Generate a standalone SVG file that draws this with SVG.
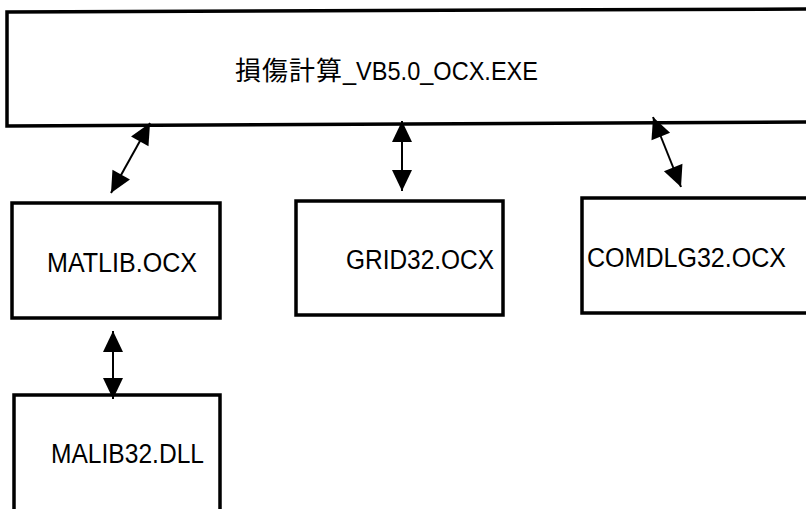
<svg xmlns="http://www.w3.org/2000/svg" width="806" height="509" viewBox="0 0 806 509">
<style>
.box{fill:#fff;stroke:#000;stroke-width:3.5}
.lbl{font-family:"Liberation Sans","Noto Sans CJK JP",sans-serif;font-size:27px;fill:#000}
.con{stroke:#000;stroke-width:2;fill:none;marker-start:url(#ah);marker-end:url(#ah)}
</style>
<defs>
<marker id="ah" markerUnits="userSpaceOnUse" markerWidth="24" markerHeight="22" refX="21" refY="10" orient="auto-start-reverse" overflow="visible">
<path d="M0,0 L21,10 L0,20 z" fill="#000"/>
</marker>
</defs>
<rect width="806" height="509" fill="#fff"/>
<g id="main">
<path class="box" d="M808,9 L7,12 L7,126 L808,122"/>
<text x="235" y="80" class="lbl"><tspan font-family="'Noto Sans CJK JP',sans-serif" font-size="26" letter-spacing="1">損傷計算</tspan><tspan font-size="26" textLength="195" lengthAdjust="spacingAndGlyphs">_VB5.0_OCX.EXE</tspan></text>
</g>
<g id="matlib">
<rect class="box" x="12" y="203" width="208" height="115"/>
<text x="47" y="272" class="lbl" textLength="150" lengthAdjust="spacingAndGlyphs">MATLIB.OCX</text>
</g>
<g id="grid32">
<rect class="box" x="296" y="201" width="207" height="114"/>
<text x="346" y="269" class="lbl" textLength="148" lengthAdjust="spacingAndGlyphs">GRID32.OCX</text>
</g>
<g id="comdlg32">
<path class="box" d="M808,198 L582,198 L582,313 L808,313"/>
<text x="587" y="267" class="lbl" textLength="199" lengthAdjust="spacingAndGlyphs">COMDLG32.OCX</text>
</g>
<g id="malib32">
<path class="box" d="M14,512 L14,395 L220,395 L220,512"/>
<text x="51" y="463" class="lbl" textLength="153" lengthAdjust="spacingAndGlyphs">MALIB32.DLL</text>
</g>
<g id="connectors">
<line class="con" x1="150" y1="123" x2="111" y2="193"/>
<line class="con" x1="402" y1="121" x2="402" y2="191"/>
<line class="con" x1="653" y1="117" x2="681" y2="187"/>
<line class="con" x1="113" y1="331" x2="113" y2="399"/>
</g>
</svg>
